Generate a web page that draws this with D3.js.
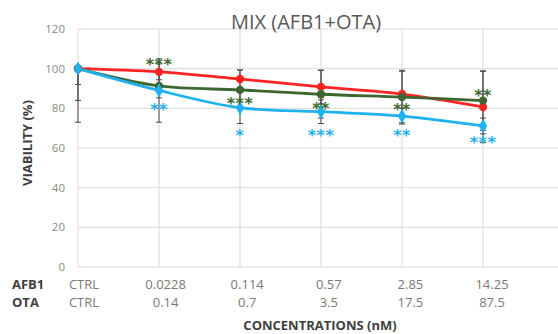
<!DOCTYPE html>
<html>
<head>
<meta charset="utf-8">
<script src="https://cdn.jsdelivr.net/npm/d3@7"></script>
<style>
  html, body { margin: 0; padding: 0; background: #fff; }
  svg { display: block; font-family: "Open Sans", "Liberation Sans", sans-serif; }
</style>
</head>
<body>
<svg id="chart" width="558" height="334"></svg>
<script>
// Concentration pairs (nM) for the AFB1 + OTA mixture
const afb1Labels = ["CTRL", "0.0228", "0.114", "0.57", "2.85", "14.25"];
const otaLabels  = ["CTRL", "0.14", "0.7", "3.5", "17.5", "87.5"];

// Cell viability (% of control) for the three series
const redValues   = [100, 98.4, 94.8, 90.8, 87.2, 80.7];
const greenValues = [100, 91.3, 89.3, 87.1, 85.7, 83.9];
const blueValues  = [100, 89.0, 80.3, 78.3, 76.1, 71.1];

// Standard deviations (control bars show only the lower whisker)
const redSD   = [8, 4, 4.5, 8.5, 12, 18];
const greenSD = [16, 6, 10, 12, 13, 15];
const blueSD  = [27, 16, 8, 6, 4, 4];

// Significance marks versus control
const greenStars = ["", "***", "***", "**", "**", "**"];
const blueStars  = ["", "**", "*", "***", "**", "***"];

const yTicks = [0, 20, 40, 60, 80, 100, 120];

const svg = d3.select("#chart");

const x = d3.scaleLinear().domain([0, 6]).range([78, 564]);
const y = d3.scaleLinear().domain([0, 120]).range([267, 29]);
const labelX = d3.scalePoint().domain(d3.range(afb1Labels.length)).range([84, 492]);

// Gridlines
const grid = svg.append("g");
grid.selectAll("line.h").data(yTicks).join("line")
  .attr("x1", x(0)).attr("x2", x(6))
  .attr("y1", d => y(d)).attr("y2", d => y(d))
  .attr("stroke", "#d9d9d9").attr("stroke-width", 1);
grid.selectAll("line.v").data(d3.range(7)).join("line")
  .attr("x1", d => x(d)).attr("x2", d => x(d))
  .attr("y1", y(120)).attr("y2", y(0))
  .attr("stroke", "#d9d9d9").attr("stroke-width", 1);

// Y axis labels
svg.append("g").selectAll("text").data(yTicks).join("text")
  .attr("x", 65).attr("y", d => y(d)).attr("dy", "0.35em")
  .attr("text-anchor", "end").attr("fill", "#8a8a8a")
  .style("font-size", "11.5px").text(d => d);

// Title
svg.append("text").attr("x", 306).attr("y", 29).attr("text-anchor", "middle")
  .attr("fill", "#595959").style("font-size", "20px").text("MIX (AFB1+OTA)");

// Y axis title
svg.append("text")
  .attr("transform", "translate(32,143) rotate(-90)")
  .attr("text-anchor", "middle").attr("fill", "#404040")
  .style("font-size", "13px").style("font-weight", "bold")
  .text("VIABILITY (%)");

// Concentration rows
const rows = [
  { name: "AFB1", labels: afb1Labels, y: 289 },
  { name: "OTA",  labels: otaLabels,  y: 307 }
];
rows.forEach(r => {
  svg.append("text").attr("x", 12).attr("y", r.y)
    .attr("fill", "#404040").style("font-size", "13px").style("font-weight", "bold")
    .text(r.name);
  svg.append("g").selectAll("text").data(r.labels).join("text")
    .attr("x", (d, i) => labelX(i)).attr("y", r.y)
    .attr("text-anchor", "middle").attr("fill", "#7a7a7a")
    .style("font-size", "13px").text(d => d);
});

svg.append("text").attr("x", 320).attr("y", 330).attr("text-anchor", "middle")
  .attr("fill", "#404040").style("font-size", "13px").style("font-weight", "bold")
  .text("CONCENTRATIONS (nM)");

const series = [
  { values: redValues,   sd: redSD,   color: "#ff2323", marker: d3.symbolCircle },
  { values: greenValues, sd: greenSD, color: "#3d6630", marker: d3.symbolCircle },
  { values: blueValues,  sd: blueSD,  color: "#1fb2ee", marker: d3.symbolDiamond }
];

// Error bars
const eb = svg.append("g").attr("stroke", "#4a4a4a").attr("stroke-width", 1);
series.forEach(s => {
  s.values.forEach((v, i) => {
    const top = i === 0 ? v : v + s.sd[i];
    const bot = v - s.sd[i];
    eb.append("line").attr("x1", x(i)).attr("x2", x(i)).attr("y1", y(top)).attr("y2", y(bot));
    if (i > 0) eb.append("line").attr("x1", x(i) - 3).attr("x2", x(i) + 3).attr("y1", y(top)).attr("y2", y(top));
    eb.append("line").attr("x1", x(i) - 3).attr("x2", x(i) + 3).attr("y1", y(bot)).attr("y2", y(bot));
  });
});

// Smoothed lines with markers
const line = d3.line().x((d, i) => x(i)).y(d => y(d)).curve(d3.curveCatmullRom.alpha(0.5));
series.forEach(s => {
  svg.append("path").datum(s.values).attr("d", line)
    .attr("fill", "none").attr("stroke", s.color).attr("stroke-width", 2.8);
});
series.forEach(s => {
  svg.append("g").selectAll("path").data(s.values).join("path")
    .attr("transform", (d, i) => `translate(${x(i)},${y(d)})`)
    .attr("d", d3.symbol().type(s.marker).size(s.marker === d3.symbolDiamond ? 60 : 55))
    .attr("fill", s.color);
});

// Significance marks, placed relative to each point (pixel offsets)
const greenOffset = [0, -24, 11, 12, 10, -8];
const blueOffset  = [0, 17, 25, 21, 17, 14];
function stars(marks, values, offsets, color) {
  svg.append("g").selectAll("text").data(marks).join("text")
    .attr("x", (d, i) => x(i)).attr("y", (d, i) => y(values[i]) + offsets[i] + 8)
    .attr("text-anchor", "middle").attr("fill", color)
    .style("font-family", "'DejaVu Sans', sans-serif")
    .style("font-size", "16px").style("font-weight", "bold")
    .style("letter-spacing", "0.5px")
    .text(d => d);
}
stars(greenStars, greenValues, greenOffset, "#3d6630");
stars(blueStars, blueValues, blueOffset, "#1fb2ee");
</script>
</body>
</html>
